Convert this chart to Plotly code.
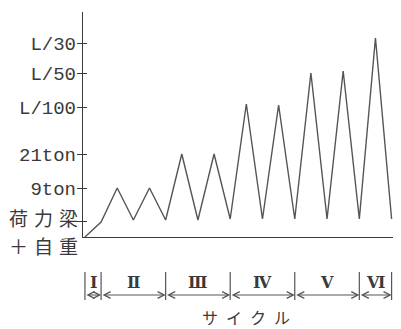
import plotly.graph_objects as go

# ---- data ----
step = list(range(20))
load = [0, 15, 49, 17, 49, 17, 83, 17, 83, 18, 133, 18, 132, 18, 164, 18, 166, 18, 199, 18]
tick_vals = [49, 83, 130, 164, 194]
tick_text = ["9ton", "21ton", "L/100", "L/50", "L/30"]
base_level = 16
base_label_1 = "荷力梁"
base_label_2 = "＋自重"
cycle_bounds = [0, 1, 5, 9, 13, 17, 19]
cycle_names = ["Ⅰ", "Ⅱ", "Ⅲ", "Ⅳ", "Ⅴ", "Ⅵ"]
x_title = "サイクル"

INK = "#3a3a3a"
LINE = "#555555"

fig = go.Figure()
fig.add_trace(go.Scatter(x=step, y=load, mode="lines",
                         line=dict(color=LINE, width=1.4), showlegend=False,
                         hoverinfo="skip"))

# page body adds an 8px margin; lay out in reference pixels minus that offset
OFF = 8
W, H = 401 - OFF, 329 - OFF
L = 83 - OFF
R = 1
T = 12 - OFF
B = H - (237 - OFF)
pw = W - L - R
ph = H - T - B

def py(pix):
    return (237 - pix) / ph

def spaced(s, gap):
    sp = '<span style="font-size:%dpx">\u2002</span>' % gap
    return sp.join(s)

ann = []
ann.append(dict(text=spaced(base_label_1, 12), xref="paper", yref="paper",
                x=-3 / pw, y=py(217), xanchor="right", yanchor="middle",
                showarrow=False, font=dict(family="Noto Sans CJK JP", size=19, color=INK)))
ann.append(dict(text=spaced(base_label_2, 12), xref="paper", yref="paper",
                x=-3 / pw, y=py(245.5), xanchor="right", yanchor="middle",
                showarrow=False, font=dict(family="Noto Sans CJK JP", size=19, color=INK)))

shapes = []
for b in cycle_bounds:
    shapes.append(dict(type="line", xref="x", yref="paper", x0=b, x1=b,
                       y0=py(272), y1=py(300), line=dict(color=LINE, width=1.2)))
for i, name in enumerate(cycle_names):
    a, b = cycle_bounds[i], cycle_bounds[i + 1]
    ann.append(dict(text="", xref="x", yref="paper", x=b, y=py(295),
                    axref="x", ayref="pixel", ax=a, ay=0, showarrow=True,
                    arrowside="end+start", arrowhead=5, startarrowhead=5,
                    arrowsize=1.3, startarrowsize=1.3, arrowwidth=1, arrowcolor=LINE,
                    standoff=0, startstandoff=0))
    ann.append(dict(text="<b>%s</b>" % name, xref="x", yref="paper", x=(a + b) / 2,
                    y=py(282), xanchor="center", yanchor="middle", showarrow=False,
                    font=dict(family="DejaVu Serif", size=16, color=INK)))

ann.append(dict(text=spaced(x_title, 16), xref="paper", yref="paper",
                x=(246 - 83) / pw, y=py(316.5), xanchor="center", yanchor="middle",
                showarrow=False, font=dict(family="Noto Sans CJK JP", size=16, color=INK)))

xr0 = -0.12
xr1 = xr0 + pw / 16.14

fig.update_layout(
    width=W, height=H, margin=dict(l=L, r=R, t=T, b=B),
    paper_bgcolor="white", plot_bgcolor="white",
    xaxis=dict(range=[xr0, xr1], showgrid=False, zeroline=False, showline=True,
               linecolor=INK, linewidth=1.4, showticklabels=False, ticks=""),
    yaxis=dict(range=[0, ph], showgrid=False, zeroline=False, showline=True,
               linecolor=INK, linewidth=1.4, tickmode="array",
               tickvals=tick_vals + [base_level], ticktext=tick_text + [""],
               ticks="outside", ticklen=5, tickcolor=INK, tickwidth=1.2,
               ticklabelstandoff=-3,
               tickfont=dict(family="Liberation Mono", size=19, color=INK)),
    yaxis2=dict(range=[0, ph], overlaying="y", anchor="x", side="left",
                showgrid=False, zeroline=False, showline=False,
                tickmode="array", tickvals=tick_vals + [base_level],
                ticktext=[""] * (len(tick_vals) + 1),
                ticks="inside", ticklen=4, tickcolor=INK, tickwidth=1.2),
    annotations=ann, shapes=shapes,
)
fig.add_trace(go.Scatter(x=[None], y=[None], yaxis="y2", showlegend=False))

fig.write_html("out.html")
